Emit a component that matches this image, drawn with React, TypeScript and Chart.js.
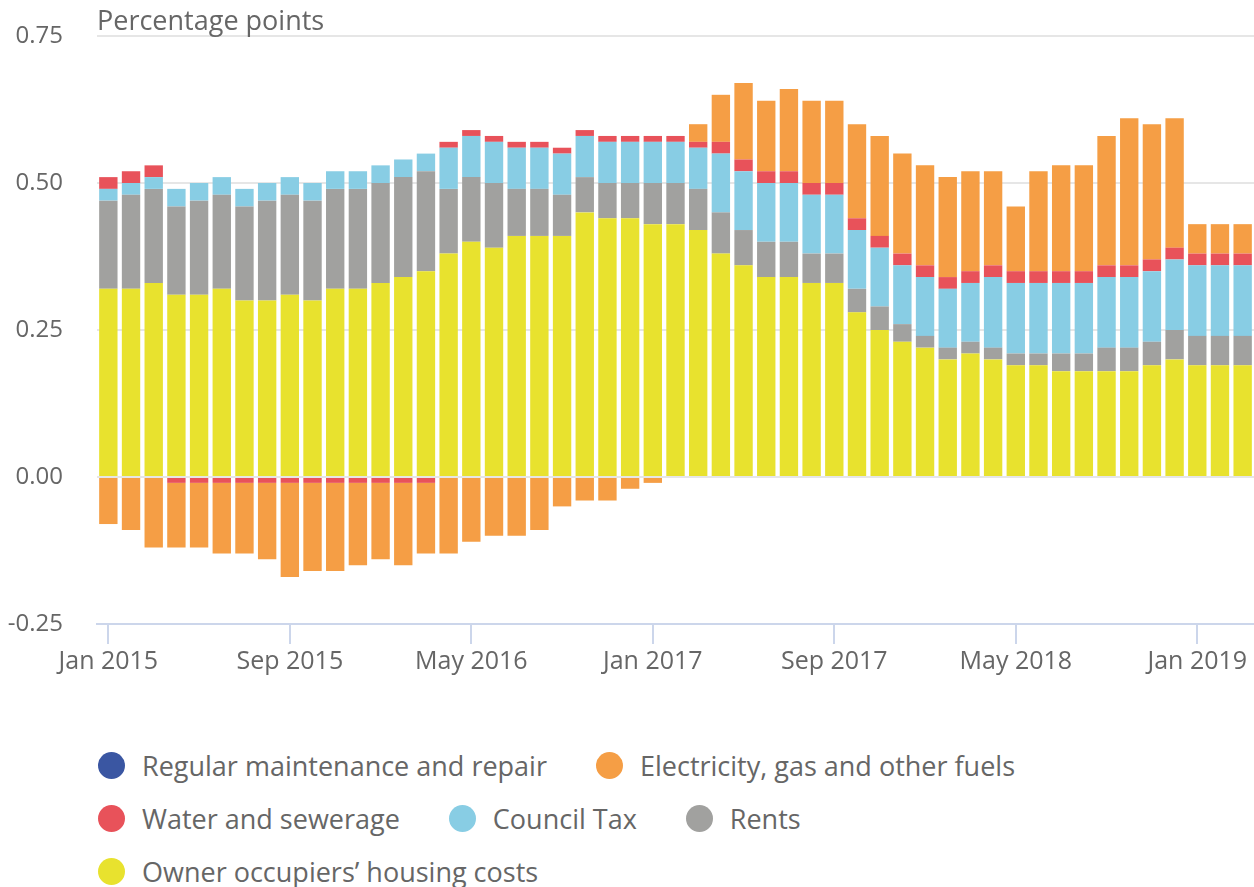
import React, { useEffect, useRef } from "react";
import { Chart, registerables } from "chart.js";

Chart.register(...registerables);

const months = [
  "Jan 2015", "Feb 2015", "Mar 2015", "Apr 2015", "May 2015", "Jun 2015", "Jul 2015", "Aug 2015", "Sep 2015", "Oct 2015", "Nov 2015", "Dec 2015",
  "Jan 2016", "Feb 2016", "Mar 2016", "Apr 2016", "May 2016", "Jun 2016", "Jul 2016", "Aug 2016", "Sep 2016", "Oct 2016", "Nov 2016", "Dec 2016",
  "Jan 2017", "Feb 2017", "Mar 2017", "Apr 2017", "May 2017", "Jun 2017", "Jul 2017", "Aug 2017", "Sep 2017", "Oct 2017", "Nov 2017", "Dec 2017",
  "Jan 2018", "Feb 2018", "Mar 2018", "Apr 2018", "May 2018", "Jun 2018", "Jul 2018", "Aug 2018", "Sep 2018", "Oct 2018", "Nov 2018", "Dec 2018",
  "Jan 2019", "Feb 2019", "Mar 2019",
];

const ownerOccupiers = [
  0.32, 0.32, 0.33, 0.31, 0.31, 0.32, 0.30, 0.30, 0.31, 0.30, 0.32, 0.32,
  0.33, 0.34, 0.35, 0.38, 0.40, 0.39, 0.41, 0.41, 0.41, 0.45, 0.44, 0.44,
  0.43, 0.43, 0.42, 0.38, 0.36, 0.34, 0.34, 0.33, 0.33, 0.28, 0.25, 0.23,
  0.22, 0.20, 0.21, 0.20, 0.19, 0.19, 0.18, 0.18, 0.18, 0.18, 0.19, 0.20,
  0.19, 0.19, 0.19,
];

const rents = [
  0.15, 0.16, 0.16, 0.15, 0.16, 0.16, 0.16, 0.17, 0.17, 0.17, 0.17, 0.17,
  0.17, 0.17, 0.17, 0.11, 0.11, 0.11, 0.08, 0.08, 0.07, 0.06, 0.06, 0.06,
  0.07, 0.07, 0.07, 0.07, 0.06, 0.06, 0.06, 0.05, 0.05, 0.04, 0.04, 0.03,
  0.02, 0.02, 0.02, 0.02, 0.02, 0.02, 0.03, 0.03, 0.04, 0.04, 0.04, 0.05,
  0.05, 0.05, 0.05,
];

const councilTax = [
  0.02, 0.02, 0.02, 0.03, 0.03, 0.03, 0.03, 0.03, 0.03, 0.03, 0.03, 0.03,
  0.03, 0.03, 0.03, 0.07, 0.07, 0.07, 0.07, 0.07, 0.07, 0.07, 0.07, 0.07,
  0.07, 0.07, 0.07, 0.10, 0.10, 0.10, 0.10, 0.10, 0.10, 0.10, 0.10, 0.10,
  0.10, 0.10, 0.10, 0.12, 0.12, 0.12, 0.12, 0.12, 0.12, 0.12, 0.12, 0.12,
  0.12, 0.12, 0.12,
];

const waterSewerage = [
  0.02, 0.02, 0.02, -0.01, -0.01, -0.01, -0.01, -0.01, -0.01, -0.01, -0.01, -0.01,
  -0.01, -0.01, -0.01, 0.01, 0.01, 0.01, 0.01, 0.01, 0.01, 0.01, 0.01, 0.01,
  0.01, 0.01, 0.01, 0.02, 0.02, 0.02, 0.02, 0.02, 0.02, 0.02, 0.02, 0.02,
  0.02, 0.02, 0.02, 0.02, 0.02, 0.02, 0.02, 0.02, 0.02, 0.02, 0.02, 0.02,
  0.02, 0.02, 0.02,
];

const electricityGas = [
  -0.08, -0.09, -0.12, -0.11, -0.11, -0.12, -0.12, -0.13, -0.16, -0.15, -0.15, -0.14,
  -0.13, -0.14, -0.12, -0.13, -0.11, -0.10, -0.10, -0.09, -0.05, -0.04, -0.04, -0.02,
  -0.01, 0.00, 0.03, 0.08, 0.13, 0.12, 0.14, 0.14, 0.14, 0.16, 0.17, 0.17,
  0.17, 0.17, 0.17, 0.16, 0.11, 0.17, 0.18, 0.18, 0.22, 0.25, 0.23, 0.22,
  0.05, 0.05, 0.05,
];

const regularMaintenance = [
  0, 0, 0, 0, 0, 0, 0, 0, 0, 0, 0, 0,
  0, 0, 0, 0, 0, 0, 0, 0, 0, 0, 0, 0,
  0, 0, 0, 0, 0, 0, 0, 0, 0, 0, 0, 0,
  0, 0, 0, 0, 0, 0, 0, 0, 0, 0, 0, 0,
  0, 0, 0,
];

const yTicks = [-0.25, 0, 0.25, 0.5, 0.75];

const COLORS = {
  maintenance: "#3a56a2",
  electricity: "#f59e45",
  water: "#e8525a",
  council: "#88cde4",
  rents: "#a1a19f",
  owner: "#e8e22e",
};

const legendItems = [
  { label: "Regular maintenance and repair", color: COLORS.maintenance },
  { label: "Electricity, gas and other fuels", color: COLORS.electricity },
  { label: "Water and sewerage", color: COLORS.water },
  { label: "Council Tax", color: COLORS.council },
  { label: "Rents", color: COLORS.rents },
  { label: "Owner occupiers\u2019 housing costs", color: COLORS.owner },
];

const FONT = "'Open Sans', 'Noto Sans', sans-serif";

export default function App() {
  const canvasRef = useRef<HTMLCanvasElement | null>(null);

  useEffect(() => {
    if (!canvasRef.current) return;
    const chart = new Chart(canvasRef.current, {
      type: "bar",
      data: {
        labels: months,
        datasets: [
          { label: "Owner occupiers\u2019 housing costs", data: ownerOccupiers, backgroundColor: COLORS.owner },
          { label: "Rents", data: rents, backgroundColor: COLORS.rents },
          { label: "Council Tax", data: councilTax, backgroundColor: COLORS.council },
          { label: "Water and sewerage", data: waterSewerage, backgroundColor: COLORS.water },
          { label: "Electricity, gas and other fuels", data: electricityGas, backgroundColor: COLORS.electricity },
          { label: "Regular maintenance and repair", data: regularMaintenance, backgroundColor: COLORS.maintenance },
        ],
      },
      options: {
        animation: false,
        responsive: false,
        maintainAspectRatio: false,
        datasets: {
          bar: { barPercentage: 0.81, categoryPercentage: 1, borderWidth: 0 },
        },
        layout: { padding: { top: 36, right: 0, bottom: 20, left: 0 } },
        plugins: {
          legend: { display: false },
          tooltip: { enabled: false },
          title: { display: false },
        },
        scales: {
          x: {
            stacked: true,
            grid: {
              offset: false,
              drawOnChartArea: false,
              color: "#ccd6eb",
              tickColor: "#ccd6eb",
              tickLength: 20,
              lineWidth: 2,
            },
            border: { display: true, color: "#ccd6eb", width: 2 },
            ticks: {
              autoSkip: false,
              maxRotation: 0,
              minRotation: 0,
              padding: 3,
              color: "#666666",
              font: { family: FONT, size: 25 },
              callback: (_v: any, i: number) => (i % 8 === 0 ? months[i] : null),
            },
          },
          y: {
            stacked: true,
            min: yTicks[0],
            max: yTicks[yTicks.length - 1],
            afterBuildTicks: (scale: any) => {
              scale.ticks = yTicks.map((v) => ({ value: v }));
            },
            afterFit: (scale: any) => {
              scale.width = 97;
              scale.paddingTop = 14;
              scale.paddingBottom = 14;
            },
            grid: {
              color: (ctx: any) => (ctx.tick && ctx.tick.value === yTicks[0] ? "rgba(0,0,0,0)" : "#e6e6e6"),
              lineWidth: 2,
              drawTicks: false,
            },
            border: { display: false },
            ticks: {
              padding: 34,
              color: "#666666",
              font: { family: FONT, size: 24 },
              callback: (v: any) => Number(v).toFixed(2),
            },
          },
        },
      },
    });
    return () => chart.destroy();
  }, []);

  return (
    <div
      style={{
        position: "fixed",
        left: 0,
        top: 0,
        width: 1254,
        height: 887,
        background: "#ffffff",
        fontFamily: FONT,
        overflow: "hidden",
      }}
    >
      <canvas
        ref={canvasRef}
        width={1254}
        height={700}
        style={{ position: "absolute", left: 0, top: 0, width: 1254, height: 700 }}
      />
      <div
        style={{
          position: "absolute",
          left: 97,
          top: 4,
          fontSize: 27,
          lineHeight: "32px",
          color: "#666666",
          whiteSpace: "nowrap",
        }}
      >
        Percentage points
      </div>
      <div
        style={{
          position: "absolute",
          left: 98,
          top: 739,
          width: 1140,
          display: "flex",
          flexWrap: "wrap",
          rowGap: 0,
        }}
      >
        {legendItems.map((it) => (
          <div
            key={it.label}
            style={{
              display: "flex",
              alignItems: "center",
              height: 53,
              marginRight: 49,
              whiteSpace: "nowrap",
            }}
          >
            <span
              style={{
                display: "inline-block",
                width: 27,
                height: 27,
                borderRadius: "50%",
                background: it.color,
                marginRight: 17,
                flex: "0 0 auto",
              }}
            />
            <span style={{ fontSize: 27, color: "#666666", lineHeight: "32px" }}>{it.label}</span>
          </div>
        ))}
      </div>
    </div>
  );
}
